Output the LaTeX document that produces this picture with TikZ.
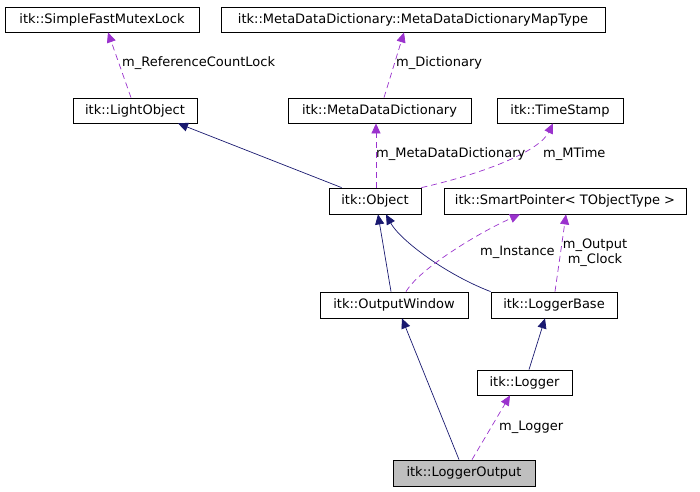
\documentclass[tikz,border=0pt]{standalone}
\usepackage{fontspec}
\setmainfont{DejaVu Sans}
\usetikzlibrary{arrows.meta,calc}
\definecolor{navy}{HTML}{191970}
\definecolor{orchid}{HTML}{9A32CD}
\definecolor{boxgray}{HTML}{BFBFBF}
\tikzset{
  box/.style={draw=black, line width=0.8pt, inner sep=0pt, minimum height=25pt, font=\fontsize{13}{15}\selectfont},
  lbl/.style={anchor=west, inner sep=0pt, font=\fontsize{13}{15}\selectfont, align=center},
  inh/.style={draw=navy, line width=0.7pt, -{Triangle[length=10pt,width=9pt]}, navy},
  use/.style={draw=orchid, line width=0.7pt, dash pattern=on 6pt off 4pt, -{Triangle[length=10pt,width=9pt]}, orchid},
}
\begin{document}
\begin{tikzpicture}[x=1pt,y=-1pt]
\useasboundingbox (0,0) rectangle (700,491);
\node[box, minimum width=194pt] (sfml) at (102,19.5) {itk::SimpleFastMutexLock};
\node[box, minimum width=384pt] (map) at (413,19.5) {itk::MetaDataDictionary::MetaDataDictionaryMapType};
\node[box, minimum width=124pt] (lo) at (135,110.5) {itk::LightObject};
\node[box, minimum width=183pt] (mdd) at (379.5,110.5) {itk::MetaDataDictionary};
\node[box, minimum width=126pt] (ts) at (560,110.5) {itk::TimeStamp};
\node[box, minimum width=92pt, minimum height=26pt] (obj) at (375,201) {itk::Object};
\node[box, minimum width=242pt, minimum height=26pt] (sp) at (565,201) {itk::SmartPointer< TObjectType >};
\node[box, minimum width=148pt, minimum height=26pt] (ow) at (394,305) {itk::OutputWindow};
\node[box, minimum width=126pt, minimum height=26pt] (lb) at (554,305) {itk::LoggerBase};
\node[box, minimum width=95pt] (lg) at (524.5,382.5) {itk::Logger};
\node[box, minimum width=142pt, minimum height=26pt, fill=boxgray] (lout) at (464,473) {itk::LoggerOutput};

% connectors
\draw[use] ($(lo.north)+(-4,0)$) -- ($(sfml.south)+(6,0)$);
\draw[use] ($(mdd.north)+(4.5,0)$) -- ($(map.south)+(-9,0)$);
\draw[inh] ($(obj.north west)+(13,0)$) -- ($(lo.south)+(43,0)$);
\draw[use] ($(obj.north)+(1,0)$) -- ($(mdd.south)+(-3.5,0)$);
\draw[use] (obj.north east) .. controls (490,172) and (540,150) .. ($(ts.south)+(-7,0)$);
\draw[inh] ($(ow.north)+(-3,0)$) -- ($(obj.south)+(3,0)$);
\draw[inh] (lb.north west) .. controls (445,274) and (400,240) .. ($(obj.south)+(11,0)$);
\draw[use] ($(ow.north)+(12,0)$) .. controls (420,268) and (480,232) .. ($(sp.south)+(-45,0)$);
\draw[use] ($(lb.north)+(1,0)$) -- ($(sp.south)+(1,0)$);
\draw[inh] ($(lg.north)+(4.5,0)$) -- ($(lb.south)+(-9,0)$);
\draw[inh] ($(lout.north)+(-5,0)$) -- ($(ow.south)+(8,0)$);
\draw[use] ($(lout.north)+(8,0)$) -- ($(lg.south)+(-14.5,0)$);

% labels
\node[lbl] (l1) at (122,63) {m\_ReferenceCountLock};
\node[lbl] (l2) at (396,63) {m\_Dictionary};
\node[lbl] (l3) at (376,154) {m\_MetaDataDictionary};
\node[lbl] (l4) at (543,154) {m\_MTime};
\node[lbl] (l5) at (480,252) {m\_Instance};
\node[lbl, anchor=center] (l6) at (595,252.5) {m\_Output\\m\_Clock};
\node[lbl] (l7) at (499,427) {m\_Logger};
\end{tikzpicture}
\end{document}
